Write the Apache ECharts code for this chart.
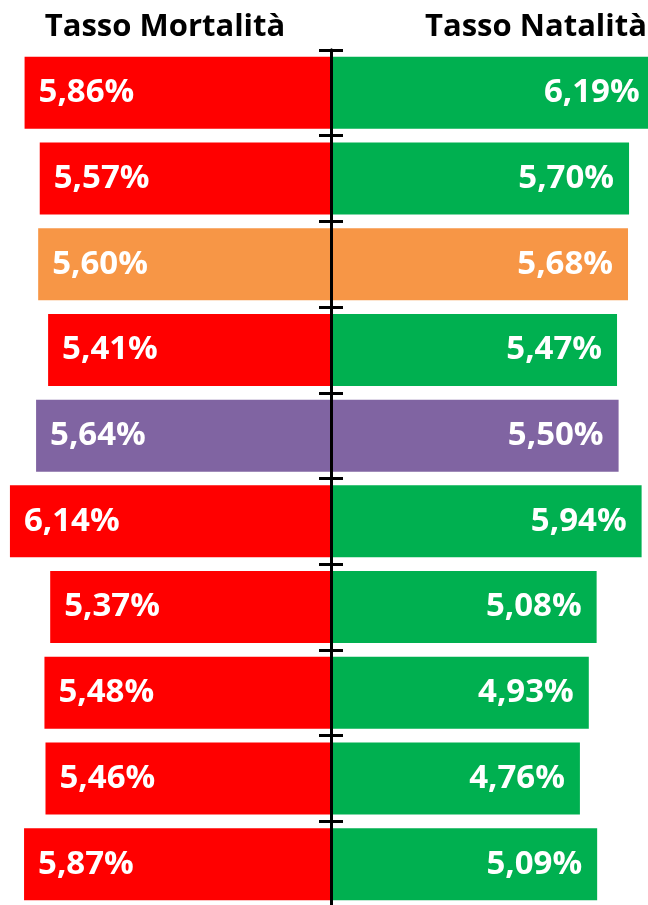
<!DOCTYPE html>
<html>
<head>
<meta charset="utf-8">
<script src="https://cdn.jsdelivr.net/npm/echarts@6/dist/echarts.min.js"></script>
<style>
  html, body { margin: 0; padding: 0; background: #ffffff; }
  #chart { width: 648px; height: 905px; }
</style>
</head>
<body>
<div id="chart"></div>
<script>
// Rows (top to bottom); category labels are not shown in the picture
const categories = ['1', '2', '3', '4', '5', '6', '7', '8', '9', '10'];
const mortalita = [5.86, 5.57, 5.60, 5.41, 5.64, 6.14, 5.37, 5.48, 5.46, 5.87];
const natalita = [6.19, 5.70, 5.68, 5.47, 5.50, 5.94, 5.08, 4.93, 4.76, 5.09];
const titleLeft = 'Tasso Mortalità';
const titleRight = 'Tasso Natalità';
// Highlighted rows: index -> colour used on both sides
const highlightRows = { 2: '#F79646', 4: '#8064A2' };

const RED = '#FF0000';
const GREEN = '#00B050';
const FONT = '"Open Sans", Lato, sans-serif';
const AXIS_MAX = 6.33;

function fmt(v) {
  return Math.abs(v).toFixed(2).replace('.', ',') + '%';
}

const leftData = mortalita.map((v, i) => ({
  value: v,
  itemStyle: { color: highlightRows[i] || RED }
}));
const rightData = natalita.map((v, i) => ({
  value: v,
  itemStyle: { color: highlightRows[i] || GREEN }
}));

const labelStyle = {
  show: true,
  color: '#ffffff',
  fontFamily: FONT,
  fontWeight: 'bold',
  fontSize: 33,
  formatter: p => fmt(p.value)
};

const yAxisBase = {
  type: 'category',
  data: categories,
  inverse: true,
  z: 10,
  axisLine: { show: true, onZero: false, lineStyle: { color: '#000000', width: 3 } },
  axisTick: { show: true, inside: false, length: 12, lineStyle: { color: '#000000', width: 3 } },
  axisLabel: { show: false },
  splitLine: { show: false }
};

const chart = echarts.init(document.getElementById('chart'), null, { renderer: 'canvas' });
chart.setOption({
  animation: false,
  backgroundColor: '#ffffff',
  grid: [
    { left: 0, width: 331, top: 50, bottom: -2, outerBoundsMode: 'none', containLabel: false },
    { left: 331, width: 331, top: 50, bottom: -2, outerBoundsMode: 'none', containLabel: false }
  ],
  xAxis: [
    { gridIndex: 0, type: 'value', min: 0, max: AXIS_MAX, inverse: true, show: false },
    { gridIndex: 1, type: 'value', min: 0, max: AXIS_MAX, show: false }
  ],
  yAxis: [
    Object.assign({}, yAxisBase, { gridIndex: 0, position: 'right' }),
    Object.assign({}, yAxisBase, { gridIndex: 1, position: 'left' })
  ],
  graphic: [
    {
      type: 'text', x: 165, y: 27, z: 20,
      style: { text: titleLeft, fill: '#000000', font: 'bold 31px ' + FONT, textAlign: 'center', textVerticalAlign: 'middle' }
    },
    {
      type: 'text', x: 536, y: 27, z: 20,
      style: { text: titleRight, fill: '#000000', font: 'bold 31px ' + FONT, textAlign: 'center', textVerticalAlign: 'middle' }
    }
  ],
  series: [
    {
      name: titleLeft,
      type: 'bar',
      xAxisIndex: 0,
      yAxisIndex: 0,
      barCategoryGap: '16%',
      data: leftData,
      label: Object.assign({}, labelStyle, { position: 'insideLeft', distance: 14 })
    },
    {
      name: titleRight,
      type: 'bar',
      xAxisIndex: 1,
      yAxisIndex: 1,
      barCategoryGap: '16%',
      data: rightData,
      label: Object.assign({}, labelStyle, { position: 'insideRight', distance: 15 })
    }
  ]
});
</script>
</body>
</html>
